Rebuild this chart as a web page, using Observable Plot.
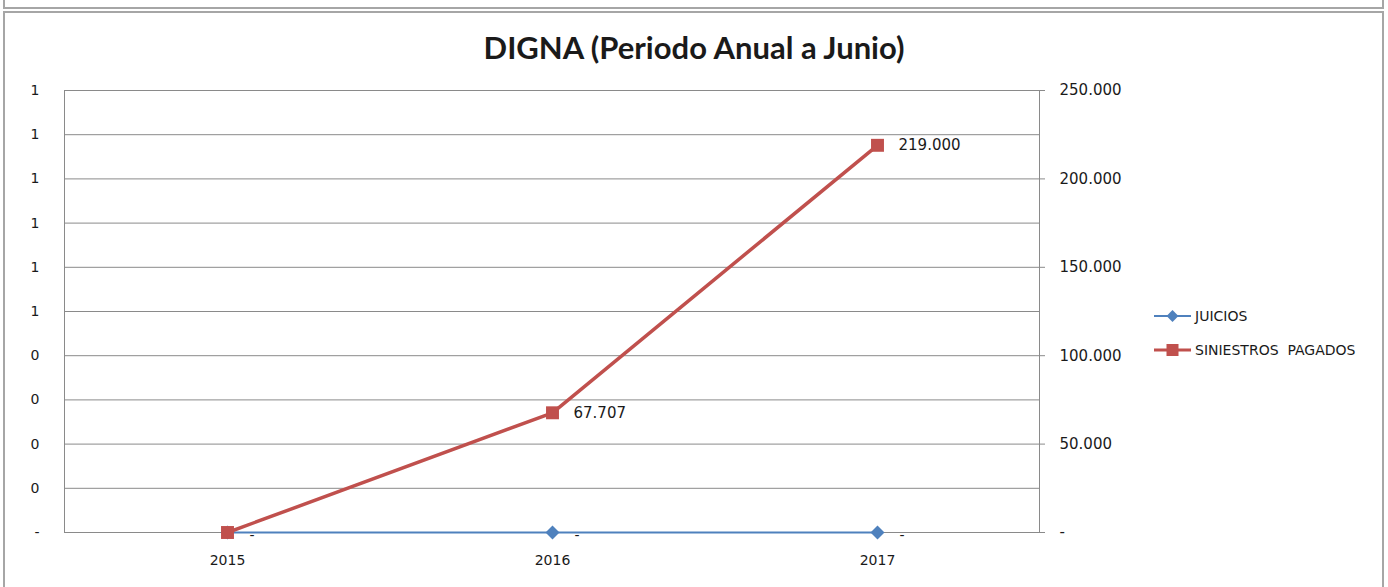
<!DOCTYPE html>
<html>
<head>
<meta charset="utf-8">
<script src="https://cdn.jsdelivr.net/npm/d3@7"></script>
<script src="https://cdn.jsdelivr.net/npm/@observablehq/plot@0.6"></script>
<style>
  html, body { margin: 0; padding: 0; background: #fff; }
  #wrap { position: relative; width: 1388px; height: 587px; overflow: hidden; background: #fff; }
  .box { position: absolute; border: 2px solid #a6a6a6; box-sizing: border-box; }
  #title { position: absolute; left: 0; width: 1388px; top: 28px; text-align: center; line-height: 38px;
           font-family: "Lato", "Open Sans", sans-serif; font-weight: bold; font-size: 31px; color: #1a1a1a; }
  #chart { position: absolute; left: 0; top: 0; }
  #legend { position: absolute; left: 1154px; top: 299px; font-family: "DejaVu Sans", sans-serif; font-size: 14px; color: #1a1a1a; }
  #legend .item { display: flex; align-items: center; height: 34px; }
  #legend svg { display: block; margin-right: 4px; }
</style>
</head>
<body>
<div id="wrap">
  <div class="box" style="left:3px; top:-12px; width:1381px; height:21px;"></div>
  <div class="box" style="left:3px; top:11px; width:1381px; height:600px;"></div>
  <div id="title">DIGNA (Periodo Anual a Junio)</div>
  <div id="chart"></div>
  <div id="legend"></div>
</div>
<script>
// ---- data ----
const years = ["2015", "2016", "2017"];
const juicios = [0, 0, 0];
const siniestros = [0, 67707, 219000];
const seriesNames = ["JUICIOS", "SINIESTROS PAGADOS"];
const seriesColors = ["#4F81BD", "#C0504D"];
// secondary (left) axis tick labels, bottom to top
const leftTickLabels = ["-", "0", "0", "0", "0", "1", "1", "1", "1", "1", "1"];
const gridTicks = [0, 25000, 50000, 75000, 100000, 125000, 150000, 175000, 200000, 225000, 250000];
const rightTicks = [0, 50000, 100000, 150000, 200000, 250000];

// ---- formatting ----
const loc = d3.formatLocale({thousands: ".", decimal: ",", grouping: [3], currency: ["", ""]});
const fmtNum = loc.format(",d");
const fmt = v => v === 0 ? "-" : fmtNum(v);

const dataJ = years.map((y, i) => ({year: y, value: juicios[i], series: seriesNames[0]}));
const dataS = years.map((y, i) => ({year: y, value: siniestros[i], series: seriesNames[1]}));

const chart = Plot.plot({
  width: 1388,
  height: 587,
  marginLeft: 64,
  marginRight: 349,
  marginTop: 90,
  marginBottom: 55,
  style: {background: "transparent", fontFamily: "DejaVu Sans, sans-serif", color: "#1a1a1a"},
  x: {type: "point", domain: years, padding: 0.5},
  y: {domain: [0, 250000]},
  marks: [
    Plot.gridY(gridTicks, {stroke: "#8a8a8a", strokeOpacity: 1}),
    Plot.frame({stroke: "#8a8a8a"}),
    Plot.axisX({tickSize: 0, tickPadding: 23, fontSize: 14, label: null}),
    Plot.axisY({anchor: "right", ticks: rightTicks, tickSize: 5, tickPadding: 15, fontSize: 15,
                tickFormat: fmt, label: null, stroke: "#8a8a8a"}),
    Plot.axisY({anchor: "left", ticks: gridTicks, tickSize: 0, tickPadding: 25, fontSize: 14,
                tickFormat: (d, i) => leftTickLabels[gridTicks.indexOf(d)], label: null}),
    Plot.line(dataJ, {x: "year", y: "value", stroke: seriesColors[0], strokeWidth: 2}),
    Plot.dot(dataJ, {x: "year", y: "value", symbol: "square", r: 5.6, rotate: 45, fill: seriesColors[0], stroke: "none"}),
    Plot.text(dataJ, {x: "year", y: "value", text: d => fmt(d.value), dx: 22, dy: 3, textAnchor: "start", fontSize: 14, fill: "#1a1a1a"}),
    Plot.line(dataS, {x: "year", y: "value", stroke: seriesColors[1], strokeWidth: 3.5}),
    Plot.dot(dataS, {x: "year", y: "value", symbol: "square", r: 7.3, fill: seriesColors[1], stroke: "none"}),
    Plot.text(dataS.filter(d => d.value !== 0), {x: "year", y: "value", text: d => fmt(d.value), dx: 21, textAnchor: "start", fontSize: 15, fill: "#1a1a1a"})
  ]
});
document.getElementById("chart").appendChild(chart);

// ---- legend ----
const legend = d3.select("#legend");
seriesNames.forEach((name, i) => {
  const item = legend.append("div").attr("class", "item");
  const svg = item.append("svg").attr("width", 37).attr("height", 16);
  svg.append("line").attr("x1", 0).attr("x2", 37).attr("y1", 8).attr("y2", 8)
     .attr("stroke", seriesColors[i]).attr("stroke-width", i === 0 ? 2 : 3);
  if (i === 0) {
    svg.append("rect").attr("x", 18.5 - 4.2).attr("y", 8 - 4.2).attr("width", 8.4).attr("height", 8.4)
       .attr("transform", "rotate(45 18.5 8)").attr("fill", seriesColors[i]);
  } else {
    svg.append("rect").attr("x", 18.5 - 6).attr("y", 2).attr("width", 12).attr("height", 12).attr("fill", seriesColors[i]);
  }
  item.append("span").style("white-space", "pre").text(name.replace(" ", "  "));
});
</script>
</body>
</html>
